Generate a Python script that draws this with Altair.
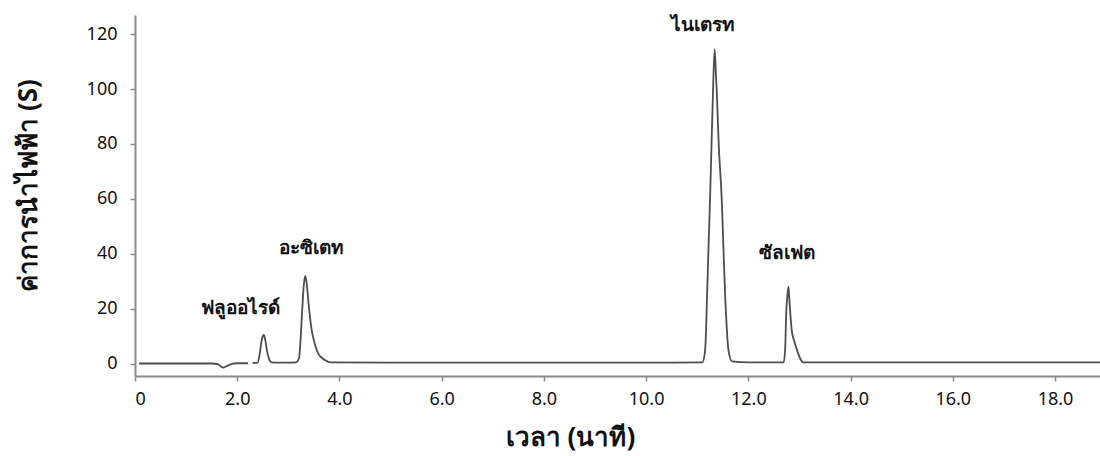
import altair as alt
import pandas as pd

# Chromatogram trace (time in minutes, conductivity)
seg1_t = [0.08, 0.5, 1.0, 1.5, 1.62, 1.68, 1.73, 1.79, 1.86, 1.93, 2.0, 2.21]
seg1_y = [0.0, 0.0, 0.0, 0.0, -0.2, -1.1, -1.5, -1.0, -0.4, 0.0, 0.1, 0.1]

seg2_t = [2.30, 2.40, 2.44, 2.47, 2.50, 2.52, 2.55, 2.58, 2.62, 2.67, 2.8, 3.0, 3.15,
          3.21, 3.24, 3.27, 3.30, 3.33, 3.36, 3.40, 3.45, 3.52, 3.58, 3.66, 3.74, 3.82,
          5.0, 7.0, 9.0, 10.5, 11.10, 11.155, 11.19, 11.22, 11.25, 11.28, 11.31, 11.34,
          11.36, 11.38, 11.42, 11.48, 11.52, 11.55, 11.58, 11.61, 11.68, 12.0, 12.4,
          12.69, 12.72, 12.74, 12.765, 12.785, 12.80, 12.83, 12.85, 12.90, 12.95, 13.01,
          13.07, 14.0, 16.0, 18.0, 18.88]
seg2_y = [0.2, 0.3, 3.5, 7.5, 10.0, 10.4, 8.5, 5.0, 1.8, 0.4, 0.3, 0.3, 0.4,
          2.0, 9.0, 19.0, 28.0, 31.9, 29.0, 21.0, 13.0, 7.0, 3.8, 2.0, 1.0, 0.4,
          0.3, 0.3, 0.3, 0.3, 0.4, 5.0, 23.0, 42.0, 59.5, 80.0, 100.0, 114.5,
          108.0, 100.0, 80.0, 59.5, 38.0, 23.0, 12.0, 5.0, 0.8, 0.4, 0.4,
          0.4, 5.0, 18.0, 25.0, 28.0, 24.0, 16.0, 12.0, 8.0, 5.0, 2.0,
          0.4, 0.4, 0.4, 0.4, 0.4]

# Peak labels
peak_names = ["ฟลูออไรด์", "อะซิเตท", "ไนเตรท", "ซัลเฟต"]
peak_label_t = [2.07, 3.46, 11.12, 12.76]
peak_label_y = [20.2, 42.0, 123.3, 40.2]

x_ticks = [0, 2, 4, 6, 8, 10, 12, 14, 16, 18]
y_ticks = [0, 20, 40, 60, 80, 100, 120]

trace = pd.DataFrame({
    "t": seg1_t + seg2_t,
    "y": seg1_y + seg2_y,
    "seg": [1] * len(seg1_t) + [2] * len(seg2_t),
})
labels = pd.DataFrame({"name": peak_names, "t": peak_label_t, "y": peak_label_y})

FONT = "Noto Sans"

x_scale = alt.Scale(domain=[0, 18.88], nice=False, zero=False)
y_scale = alt.Scale(domain=[-4.55, 127], nice=False, zero=False)

line = alt.Chart(trace).mark_line(color="#4d4d4d", strokeWidth=1.8,
                                  interpolate="monotone").encode(
    x=alt.X("t:Q", scale=x_scale,
            axis=alt.Axis(title="เวลา (นาที)", values=x_ticks,
                          labelExpr="datum.value == 0 ? '0' : format(datum.value, '.1f')",
                          grid=False, domainColor="#8a8a8a", domainWidth=2,
                          tickColor="#8a8a8a", tickSize=5, tickWidth=1.5,
                          labelPadding=9, labelFontSize=18, labelColor="#111",
                          labelFont=FONT, titleFont=FONT, titleFontSize=26,
                          titleFontWeight="bold", titleColor="#111",
                          titleX=435, titleY=48)),
    y=alt.Y("y:Q", scale=y_scale,
            axis=alt.Axis(title="ค่าการนำไฟฟ้า (S)", values=y_ticks, grid=False,
                          domainColor="#8a8a8a", domainWidth=2,
                          tickColor="#8a8a8a", tickSize=5, tickWidth=1.5,
                          labelPadding=13, labelFontSize=18, labelColor="#111",
                          labelFont=FONT, titleFont=FONT, titleFontSize=26,
                          titleFontWeight="bold", titleColor="#111",
                          titleX=-94, titleY=170)),
    detail="seg:N",
)

text = alt.Chart(labels).mark_text(fontSize=19, fontWeight="bold", font=FONT,
                                   color="#111", baseline="middle", align="center").encode(
    x=alt.X("t:Q", scale=x_scale),
    y=alt.Y("y:Q", scale=y_scale),
    text="name:N",
)

chart = (line + text).properties(
    width=965, height=361,
    autosize=alt.AutoSizeParams(type="none"),
    padding={"left": 135, "top": 15, "right": 0, "bottom": 80},
).configure(background="white").configure_view(stroke=None)

chart.save("out.html", embed_options={"renderer": "svg", "actions": False})
